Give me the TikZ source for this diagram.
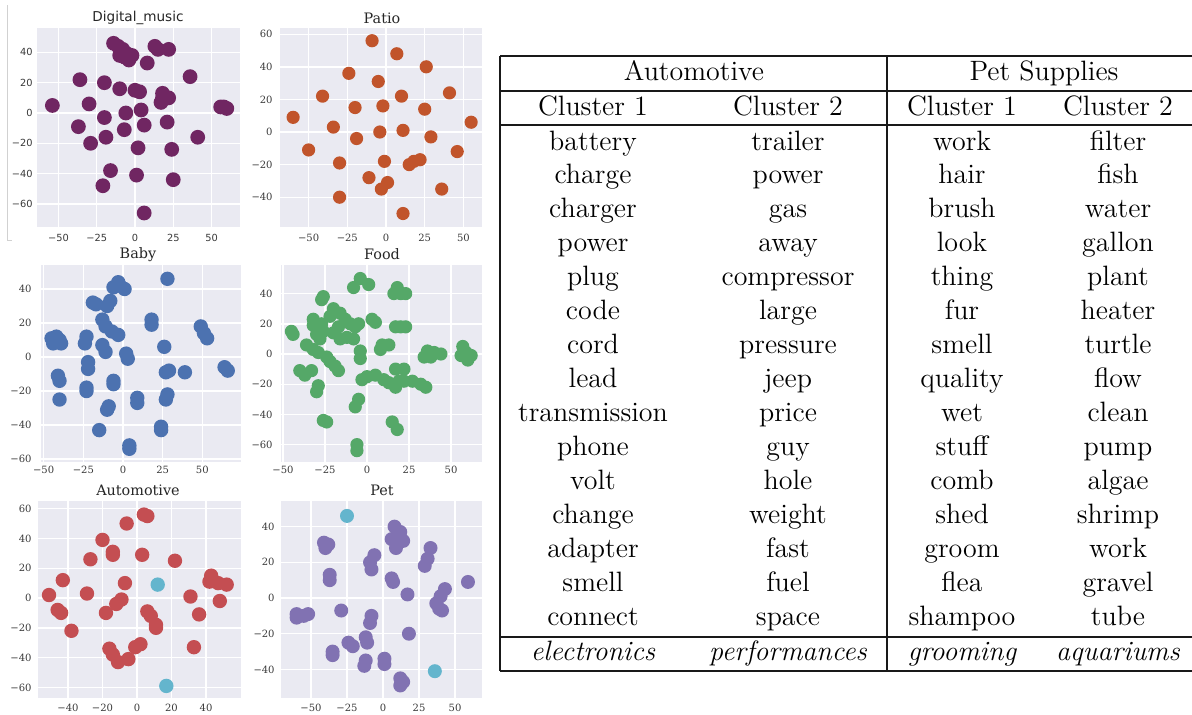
\documentclass[tikz,border=0pt]{standalone}
\usepackage{fontspec}
\newfontfamily\plotsans{DejaVu Sans}
\newfontfamily\plotserif{DejaVu Serif}
\definecolor{plotbg}{HTML}{EAEAF2}
\definecolor{tickgray}{HTML}{3A3A3A}
\definecolor{cmusic}{RGB}{112,38,98}
\definecolor{cpatio}{RGB}{193,84,43}
\definecolor{cbaby}{HTML}{4C72B0}
\definecolor{cfood}{HTML}{55A868}
\definecolor{cauto}{HTML}{C44E52}
\definecolor{cpet}{HTML}{8172B2}
\definecolor{ccyan}{HTML}{64B5CD}
\tikzset{
  gridline/.style={white, line width=0.7pt},
  ticksans/.style={font=\plotsans\fontsize{4.9}{5}\selectfont, text=tickgray, inner sep=0pt},
  tickserif/.style={font=\plotserif\fontsize{5}{5}\selectfont, text=tickgray, inner sep=0pt},
  titlesans/.style={font=\plotsans\fontsize{6.8}{8}\selectfont, text=black!85, inner sep=0pt},
  titleserif/.style={font=\plotserif\fontsize{7.2}{8}\selectfont, text=black!85, inner sep=0pt},
  cell/.style={font=\fontsize{14}{17}\selectfont, anchor=base, inner sep=0pt},
  rule/.style={line width=0.65pt, black!90},
}
\begin{document}
\begin{tikzpicture}[x=0.5pt, y=-0.5pt]
\useasboundingbox (0,0) rectangle (1192,714);
\fill[white] (0,0) rectangle (1192,714);

% ---------------- Digital_music ----------------
\draw[black!18, line width=0.4pt] (7,5) -- (7,240) -- (12,240);
\fill[plotbg] (37,28) rectangle (240,227);
\begin{scope}
\clip (37,28) rectangle (240,227);
\begin{scope}[shift={(135,113)}, x=0.765pt, y=0.7575pt]
\foreach \t in {-50,-25,0,25,50} \draw[gridline] (\t,-100) -- (\t,100);
\foreach \t in {-60,-40,-20,0,20,40} \draw[gridline] (-100,\t) -- (100,\t);
\foreach \a/\b in {-14/46,-11/44,-8/42,-5/39,-10/38,-2/38,-4/35,-7/37,
  13/44,15/42,22/42,8/33,36/24,-36/22,-20/20,-10/16,0/15,3/14,
  18/10,22/10,18/13,17/7,-54/5,-30/6,56/4,58/4,60/3,-6/0,4/2,-20/-3,
  -37/-9,-7/-11,6/-8,21/-6,-19/-16,41/-16,-29/-20,2/-23,24/-24,
  -16/-38,1/-41,25/-44,-21/-48,6/-66}
  \fill[cmusic] (\a,\b) circle[radius=3.7pt];
\end{scope}
\end{scope}
\node[titlesans] (tmusic) at (138,18) {Digital\_music};
\foreach \t/\l [evaluate=\t as \xp using 135+1.53*\t, count=\k] in {-50/−50,-25/−25,0/0,25/25,50/50}
  \node[ticksans] (mx\k) at (\xp,238) {\l};
\foreach \t/\l [evaluate=\t as \yp using 113-1.515*\t, count=\k] in {-60/−60,-40/−40,-20/−20,0/0,20/20,40/40}
  \node[ticksans, anchor=east] (my\k) at (33,\yp) {\l};

% ---------------- Patio ----------------
\fill[plotbg] (280,28) rectangle (482,227);
\begin{scope}
\clip (280,28) rectangle (482,227);
\begin{scope}[shift={(386,132)}, x=0.774pt, y=0.815pt]
\foreach \t in {-50,-25,0,25,50} \draw[gridline] (\t,-100) -- (\t,100);
\foreach \t in {-40,-20,0,20,40,60} \draw[gridline] (-100,\t) -- (100,\t);
\foreach \a/\b in {-9/56,7/48,26/40,-24/36,-5/31,41/24,-41/22,10/22,-20/15,-2/16,
  25/14,-60/9,55/6,-34/3,-4/0,11/1,-19/-4,29/-3,-50/-11,46/-12,-30/-19,-1/-18,
  18/-18,22/-17,15/-20,-11/-28,1/-31,-3/-35,36/-35,-30/-40,11/-50}
  \fill[cpatio] (\a,\b) circle[radius=3.3pt];
\end{scope}
\end{scope}
\node[titleserif] (tpatio) at (382,18) {Patio};
\foreach \t/\l [evaluate=\t as \xp using 386+1.548*\t, count=\k] in {-50/−50,-25/−25,0/0,25/25,50/50}
  \node[tickserif] (px\k) at (\xp,238) {\l};
\foreach \t/\l [evaluate=\t as \yp using 132-1.63*\t, count=\k] in {-40/−40,-20/−20,0/0,20/20,40/40,60/60}
  \node[tickserif, anchor=east] (py\k) at (273,\yp) {\l};

% ---------------- Baby ----------------
\fill[plotbg] (41,265) rectangle (241,462);
\begin{scope}
\clip (41,265) rectangle (241,462);
\begin{scope}[shift={(123,357)}, x=0.7935pt, y=0.85pt]
\foreach \t in {-50,-25,0,25,50} \draw[gridline] (\t,-100) -- (\t,100);
\foreach \t in {-60,-40,-20,0,20,40} \draw[gridline] (-100,\t) -- (100,\t);
\foreach \a/\b in {28/46,-2/42,-6/41,1/40,-3/44,-17/31,-19/32,-10/30,-8/33,-13/22,-11/18,
  18/22,18/19,49/18,53/11,51/14,-7/15,-3/13,-45/11,-40/10,-42/12,-39/8,-44/8,
  -23/12,-24/8,-13/7,-11/3,26/6,2/2,3/-1,-22/-3,-22/-7,64/-6,66/-8,29/-8,27/-9,
  39/-9,-41/-11,-40/-14,-6/-14,-6/-16,-23/-18,-23/-20,9/-24,9/-27,28/-22,27/-25,
  -40/-25,-9/-29,-10/-31,-15/-43,24/-41,24/-43,4/-52,4/-54}
  \fill[cbaby] (\a,\b) circle[radius=3.6pt];
\end{scope}
\end{scope}
\node[titleserif] (tbaby) at (138,255) {Baby};
\foreach \t/\l [evaluate=\t as \xp using 123+1.587*\t, count=\k] in {-50/−50,-25/−25,0/0,25/25,50/50}
  \node[tickserif] (bx\k) at (\xp,470) {\l};
\foreach \t/\l [evaluate=\t as \yp using 357-1.70*\t, count=\k] in {-60/−60,-40/−40,-20/−20,0/0,20/20,40/40}
  \node[tickserif, anchor=east] (by\k) at (32,\yp) {\l};

% ---------------- Food ----------------
\fill[plotbg] (281,265) rectangle (482,462);
\begin{scope}
\clip (281,265) rectangle (482,462);
\begin{scope}[shift={(367,354)}, x=0.84pt, y=0.755pt]
\foreach \t in {-50,-25,0,25,50} \draw[gridline] (\t,-100) -- (\t,100);
\foreach \t in {-60,-40,-20,0,20,40} \draw[gridline] (-100,\t) -- (100,\t);
\foreach \a/\b in {-4/50,-8/44,1/46,18/44,20/40,16/40,23/40,-26/38,-27/36,
  -20/30,-22/25,-16/27,-13/23,-10/20,-7/18,-17/18,-20/14,-12/11,-8/10,-16/10,
  -5/20,3/23,5/21,-45/15,-44/13,-32/23,-32/19,-27/20,-30/13,-28/10,-26/15,
  20/18,17/18,23/18,-36/6,-32/3,-29/1,-24/-2,-22/-5,-19/-8,-17/-11,
  -4/2,-4/-3,9/6,13/6,8/3,36/2,40/1,44/0,34/-2,38/-2,
  57/5,59/1,62/-1,56/-1,60/-4,-40/-11,-37/-14,-33/-11,
  0/-15,5/-14,10/-17,13/-19,-3/-17,17/-10,22/-10,19/-18,17/-22,22/-18,
  27/-18,32/-20,35/-22,-29/-21,-30/-25,-5/-30,-7/-35,-26/-44,-24/-45,
  15/-45,18/-50,-6/-60,-6/-64}
  \fill[cfood] (\a,\b) circle[radius=3.3pt];
\end{scope}
\end{scope}
\node[titleserif] (tfood) at (382,254) {Food};
\foreach \t/\l [evaluate=\t as \xp using 367+1.68*\t, count=\k] in {-50/−50,-25/−25,0/0,25/25,50/50}
  \node[tickserif] (fx\k) at (\xp,470) {\l};
\foreach \t/\l [evaluate=\t as \yp using 354-1.51*\t, count=\k] in {-60/−60,-40/−40,-20/−20,0/0,20/20,40/40}
  \node[tickserif, anchor=east] (fy\k) at (273,\yp) {\l};

% ---------------- Automotive ----------------
\fill[plotbg] (38,501) rectangle (241,698);
\begin{scope}
\clip (38,501) rectangle (241,698);
\begin{scope}[shift={(137,598)}, x=0.8625pt, y=0.745pt]
\foreach \t in {-40,-20,0,20,40} \draw[gridline] (\t,-100) -- (\t,100);
\foreach \t in {-60,-40,-20,0,20,40,60} \draw[gridline] (-100,\t) -- (100,\t);
\foreach \a/\b in {4/56,6/55,-6/50,-20/39,3/29,-14/31,-14/29,-27/26,22/25,-43/12,
  43/15,42/11,47/10,52/9,-7/10,-29/3,-51/2,-9/-1,-12/-4,31/1,48/-2,
  -46/-8,-44/-10,6/-9,8/-12,-18/-10,36/-11,11/-18,11/-20,-38/-22,
  2/-31,-1/-33,33/-33,-16/-34,-14/-38,-11/-43,-5/-41}
  \fill[cauto] (\a,\b) circle[radius=3.6pt];
\foreach \a/\b in {12/9,17/-59}
  \fill[ccyan] (\a,\b) circle[radius=3.6pt];
\end{scope}
\end{scope}
\node[titleserif] (tauto) at (138,490) {Automotive};
\foreach \t/\l [evaluate=\t as \xp using 137+1.725*\t, count=\k] in {-40/−40,-20/−20,0/0,20/20,40/40}
  \node[tickserif] (ax\k) at (\xp,708) {\l};
\foreach \t/\l [evaluate=\t as \yp using 598-1.49*\t, count=\k] in {-60/−60,-40/−40,-20/−20,0/0,20/20,40/40,60/60}
  \node[tickserif, anchor=east] (ay\k) at (32,\yp) {\l};

% ---------------- Pet ----------------
\fill[plotbg] (281,501) rectangle (482,698);
\begin{scope}
\clip (281,501) rectangle (482,698);
\begin{scope}[shift={(383,598)}, x=0.72pt, y=0.8925pt]
\foreach \t in {-50,-25,0,25,50} \draw[gridline] (\t,-100) -- (\t,100);
\foreach \t in {-40,-20,0,20,40} \draw[gridline] (-100,\t) -- (100,\t);
\foreach \a/\b in {8/40,12/37,6/33,14/32,9/28,-41/31,-40/28,-38/30,-6/24,-9/20,-8/16,
  33/28,31/22,29/18,-37/13,-37/10,59/9,6/11,7/9,43/5,40/1,17/2,37/-3,39/-6,41/-7,
  -60/-9,-55/-10,-52/-9,-60/-11,-29/-7,-8/-10,-9/-14,18/-20,-12/-22,-11/-25,
  -24/-25,-21/-27,-35/-30,-35/-32,-12/-35,-13/-38,1/-34,1/-37,12/-45,14/-47,12/-49}
  \fill[cpet] (\a,\b) circle[radius=3.5pt];
\foreach \a/\b in {-25/46,36/-41}
  \fill[ccyan] (\a,\b) circle[radius=3.5pt];
\end{scope}
\end{scope}
\node[titleserif] (tpet) at (382,490) {Pet};
\foreach \t/\l [evaluate=\t as \xp using 383+1.44*\t, count=\k] in {-50/−50,-25/−25,0/0,25/25,50/50}
  \node[tickserif] (ex\k) at (\xp,708) {\l};
\foreach \t/\l [evaluate=\t as \yp using 598-1.785*\t, count=\k] in {-40/−40,-20/−20,0/0,20/20,40/40}
  \node[tickserif, anchor=east] (ey\k) at (275,\yp) {\l};

% ---------------- word table ----------------
\draw[rule] (500,56) -- (1192,56);
\draw[rule] (500,91) -- (1192,91);
\draw[rule] (500,125) -- (1192,125);
\draw[rule] (500,637) -- (1192,637);
\draw[rule] (500,671) -- (1192,671);
\draw[rule] (500,56) -- (500,671);
\draw[rule] (887,56) -- (887,671);

\node[cell] (hauto) at (694,80) {Automotive};
\node[cell] (hpet) at (1044,80) {Pet Supplies};
\node[cell] (ha1) at (593,115) {Cluster 1};
\node[cell] (ha2) at (788,115) {Cluster 2};
\node[cell] (hp1) at (962,115) {Cluster 1};
\node[cell] (hp2) at (1118,115) {Cluster 2};

\foreach \a/\b/\c/\d [count=\i from 0, evaluate=\i as \yb using 150+33.98*\i] in {
  battery/trailer/work/filter, charge/power/hair/fish, charger/gas/brush/water,
  power/away/look/gallon, plug/compressor/thing/plant, code/large/fur/heater,
  cord/pressure/smell/turtle, lead/jeep/quality/flow, transmission/price/wet/clean,
  phone/guy/stuff/pump, volt/hole/comb/algae, change/weight/shed/shrimp,
  adapter/fast/groom/work, smell/fuel/flea/gravel, connect/space/shampoo/tube} {
  \node[cell] (wa\i) at (593,\yb) {\a};
  \node[cell] (wb\i) at (788,\yb) {\b};
  \node[cell] (wc\i) at (962,\yb) {\c};
  \node[cell] (wd\i) at (1118,\yb) {\d};
}

\node[cell] (ta) at (593,660) {\itshape electronics};
\node[cell] (tb) at (788,660) {\itshape performances};
\node[cell] (tc) at (962,660) {\itshape grooming};
\node[cell] (td) at (1118,660) {\itshape aquariums};
\end{tikzpicture}
\end{document}
